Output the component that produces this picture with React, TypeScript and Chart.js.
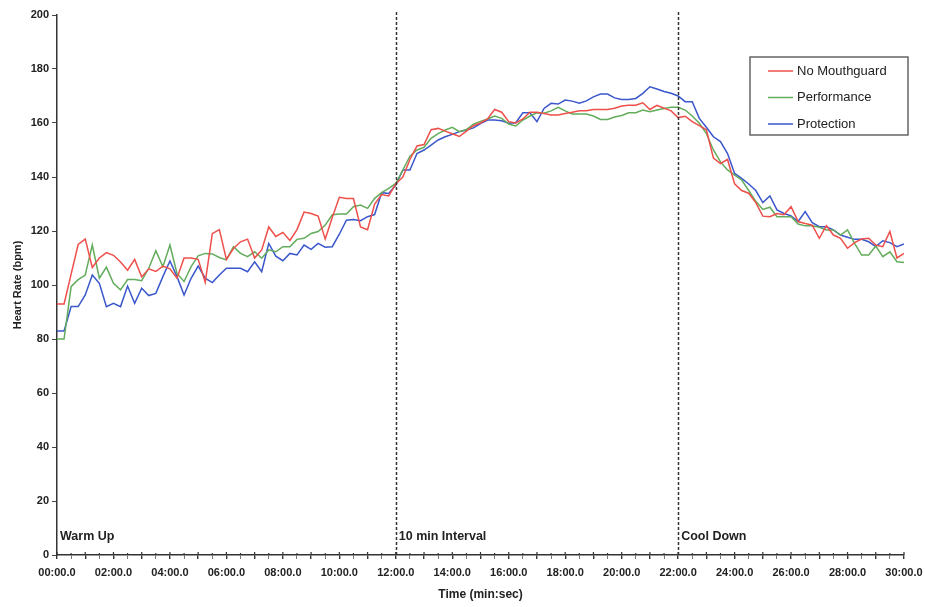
import React, { useEffect, useRef } from 'react';
import { Chart, registerables } from 'chart.js';

Chart.register(...registerables);

const SERIES_NAMES = ['No Mouthguard', 'Performance', 'Protection'];
const SERIES_COLORS = ['#ee4f4a', '#62ac5c', '#3a57cc'];
const SAMPLE_STEP_S = 15;

const noMouthguard = [
  93, 93, 104, 115, 117, 106.5, 110, 112, 111, 108.5,
  105.5, 109.5, 103, 106, 105, 107, 106, 102.5, 110, 110,
  109.5, 101, 119, 120.5, 109.5, 113.5, 116, 117, 110, 113,
  121.5, 118, 119.5, 116.5, 120.5, 127, 126.5, 125.5, 117, 125,
  132.5, 132, 132, 121.5, 120.5, 130, 133.5, 133, 137.5, 140,
  146.5, 151.5, 152, 157.5, 158, 157, 156, 155, 157, 159,
  160, 161.5, 165, 164, 160.5, 160, 161.5, 164, 164, 163.5,
  163, 163, 163.5, 164, 164.5, 164.5, 165, 165, 165, 165.5,
  166.3, 166.6, 166.6, 167.5, 165, 166.5, 165.5, 164.5, 162, 162.5,
  160.5, 159, 157.5, 147, 145, 146.5, 137.5, 135, 134, 130.5,
  125.5, 125.3, 126.5, 126, 129, 123.5, 122.8, 122.2, 117.3, 122,
  118.5, 117.3, 113.6, 115.7, 117, 117.3, 114.8, 114.2, 119.8, 110,
  111.7,
];

const performance = [
  80, 80, 99.4, 102, 103.7, 114.8, 102.5, 106.6, 100.6, 98.2,
  102, 102, 101.6, 106.2, 112.7, 106.8, 114.8, 104.3, 101.3, 106.8,
  110.8, 111.7, 111.5, 110.2, 109.3, 114.2, 111.7, 110.5, 112.3, 109.9,
  113, 112.3, 114.2, 114.2, 116.9, 117.3, 119.1, 119.8, 122.2, 126,
  126.3, 126.3, 129, 129.6, 128.4, 132.1, 134.2, 135.8, 137.6, 142.6,
  147.7, 150, 151, 154.3, 156.1, 157.4, 158.4, 156.8, 157.6, 159.6,
  160.6, 161.5, 162.6, 161.7, 159.6, 158.9, 161.1, 162.6, 163.8, 163.6,
  164.5, 165.8, 164.5, 163.3, 163.3, 163.3, 162.6, 161.3, 161.3, 162.2,
  162.8, 163.8, 163.8, 164.8, 164.2, 164.8, 165.4, 165.8, 165.8, 164.8,
  162.6, 159.9, 156.1, 150, 145.6, 142.6, 140.7, 138.9, 135, 131,
  128, 128.8, 125.3, 125.3, 125.3, 122.6, 121.9, 121.9, 121.4, 120.4,
  120.4, 118.5, 120.4, 115.4, 111.1, 111.1, 114.4, 110.5, 112.3, 108.6,
  108.3,
];

const protection = [
  83, 83, 92, 92, 96.3, 103.7, 100.6, 92, 93.2, 92,
  99.6, 93.2, 98.8, 96.1, 96.9, 103.1, 108.9, 103.1, 96.3, 102.5,
  107, 102.5, 100.9, 103.7, 106.2, 106.2, 106.2, 104.9, 108.6, 104.9,
  115.4, 110.7, 109, 111.7, 111.1, 114.8, 113.2, 115.4, 114, 114.2,
  118.8, 124, 124.3, 123.8, 125.3, 126.1, 134.2, 133.9, 137, 142.6,
  142.6, 148.7, 150, 151.8, 153.7, 154.9, 155.8, 156.8, 157.4, 158.2,
  159.8, 161.1, 161.1, 160.8, 159.9, 160.1, 163.8, 163.8, 160.5, 165.4,
  167.3, 167, 168.5, 168.1, 167.3, 168.2, 169.7, 170.7, 170.7, 169.3,
  168.7, 168.7, 169.1, 171, 173.4, 172.6, 171.7, 171, 170, 167.9,
  167.9, 161.7, 158.4, 154.9, 153.1, 148.7, 141.3, 139.5, 137.4, 135,
  130.5, 133, 127.8, 126.5, 125.6, 123.5, 127.2, 123.1, 121.6, 121.6,
  120.4, 118.5, 117.7, 116.9, 116.9, 116, 114.2, 116.4, 115.7, 114.2,
  115.2,
];

const SERIES_VALUES = [noMouthguard, performance, protection];

const PHASE_LABELS = ['Warm Up', '10 min Interval', 'Cool Down'];
const PHASE_STARTS_S = [0, 720, 1320];
const DIVIDERS_S = [720, 1320];

const X_MIN_S = 0;
const X_MAX_S = 1800;
const Y_MIN = 0;
const Y_MAX = 200;
const Y_STEP = 20;

const FONT = "'Liberation Sans', Arial, Helvetica, sans-serif";

function fmtTime(s: number): string {
  const m = Math.floor(s / 60);
  const sec = Math.round(s % 60);
  return `${String(m).padStart(2, '0')}:${String(sec).padStart(2, '0')}.0`;
}

const overlayPlugin = {
  id: 'overlay',
  afterDatasetsDraw(chart: any) {
    const { ctx, chartArea, scales } = chart;
    const xs = scales.x;
    ctx.save();

    // upper halves of x ticks (ticks cross the axis)
    ctx.strokeStyle = '#333';
    ctx.lineWidth = 1.2;
    xs.ticks.forEach((t: any) => {
      const px = xs.getPixelForValue(t.value);
      const major = t.value % 60 === 0;
      ctx.beginPath();
      ctx.moveTo(px, chartArea.bottom);
      ctx.lineTo(px, chartArea.bottom - (major ? 3 : 2));
      ctx.stroke();
    });

    // dividers
    ctx.strokeStyle = '#333';
    ctx.lineWidth = 1.5;
    ctx.setLineDash([3, 2]);
    DIVIDERS_S.forEach((s) => {
      const px = Math.round(xs.getPixelForValue(s)) + 0.5;
      ctx.beginPath();
      ctx.moveTo(px, chartArea.top - 3);
      ctx.lineTo(px, chartArea.bottom);
      ctx.stroke();
    });
    ctx.setLineDash([]);

    // phase labels
    ctx.fillStyle = '#222';
    ctx.font = `bold 12.5px ${FONT}`;
    ctx.textBaseline = 'middle';
    ctx.textAlign = 'left';
    PHASE_LABELS.forEach((lab, i) => {
      const px = xs.getPixelForValue(PHASE_STARTS_S[i]);
      ctx.fillText(lab, px + 3, chartArea.bottom - 18);
    });

    // legend
    const bx = chartArea.right - 154;
    const by = chartArea.top + 42;
    const bw = 158;
    const bh = 78;
    ctx.fillStyle = '#fff';
    ctx.fillRect(bx, by, bw, bh);
    ctx.strokeStyle = '#666';
    ctx.lineWidth = 1.5;
    ctx.strokeRect(bx, by, bw, bh);
    ctx.font = `13px ${FONT}`;
    chart.data.datasets.forEach((ds: any, i: number) => {
      const ry = by + 14 + i * 26.5;
      ctx.strokeStyle = ds.borderColor;
      ctx.lineWidth = 1.5;
      ctx.beginPath();
      ctx.moveTo(bx + 18, ry);
      ctx.lineTo(bx + 43, ry);
      ctx.stroke();
      ctx.fillStyle = '#222';
      ctx.fillText(ds.label, bx + 47, ry);
    });

    ctx.restore();
  },
};

export default function App() {
  const ref = useRef<HTMLCanvasElement | null>(null);

  useEffect(() => {
    if (!ref.current) return;
    const datasets = SERIES_NAMES.map((name, si) => ({
      label: name,
      data: SERIES_VALUES[si].map((v, i) => ({ x: i * SAMPLE_STEP_S, y: v })),
      borderColor: SERIES_COLORS[si],
      backgroundColor: SERIES_COLORS[si],
      borderWidth: 1.5,
      pointRadius: 0,
      tension: 0,
      fill: false,
    }));

    const chart = new Chart(ref.current, {
      type: 'line',
      data: { datasets },
      plugins: [overlayPlugin],
      options: {
        responsive: false,
        animation: false,
        layout: { padding: { top: 15, right: 21, bottom: 0, left: 0 } },
        plugins: {
          legend: { display: false },
          tooltip: { enabled: false },
        },
        scales: {
          x: {
            type: 'linear',
            min: X_MIN_S,
            max: X_MAX_S,
            afterFit: (s: any) => { s.height = 52; s.paddingRight = 0; },
            ticks: {
              stepSize: 30,
              autoSkip: false,
              maxRotation: 0,
              minRotation: 0,
              padding: 7,
              color: '#222',
              font: { family: FONT, size: 11, weight: 'bold' },
              callback: (v: any) => (Number(v) % 120 === 0 ? fmtTime(Number(v)) : ''),
            },
            grid: {
              drawOnChartArea: false,
              drawTicks: true,
              tickLength: 4,
              color: (c: any) => (c.tick && c.tick.value % 60 === 0 ? '#333' : '#777'),
              lineWidth: (c: any) => (c.tick && c.tick.value % 60 === 0 ? 1.4 : 1),
            },
            border: { display: true, color: '#333', width: 1.5 },
            title: {
              display: true,
              text: 'Time (min:sec)',
              color: '#222',
              font: { family: FONT, size: 12, weight: 'bold' },
              padding: { top: 0, bottom: 5 },
            },
          },
          y: {
            type: 'linear',
            min: Y_MIN,
            max: Y_MAX,
            afterFit: (s: any) => { s.width = 57; },
            ticks: {
              stepSize: Y_STEP,
              padding: 3,
              color: '#222',
              font: { family: FONT, size: 11, weight: 'bold' },
            },
            grid: {
              drawOnChartArea: false,
              drawTicks: true,
              tickLength: 5,
              color: '#444',
              lineWidth: 1,
            },
            border: { display: true, color: '#333', width: 1.5 },
            title: {
              display: true,
              text: 'Heart Rate (bpm)',
              color: '#222',
              font: { family: FONT, size: 11, weight: 'bold' },
              padding: { top: 11, bottom: 4 },
            },
          },
        },
      },
    });
    return () => chart.destroy();
  }, []);

  return (
    <div style={{ position: 'fixed', left: 0, top: 0, width: 925, height: 607, background: '#fff' }}>
      <canvas ref={ref} width={925} height={607} />
    </div>
  );
}
